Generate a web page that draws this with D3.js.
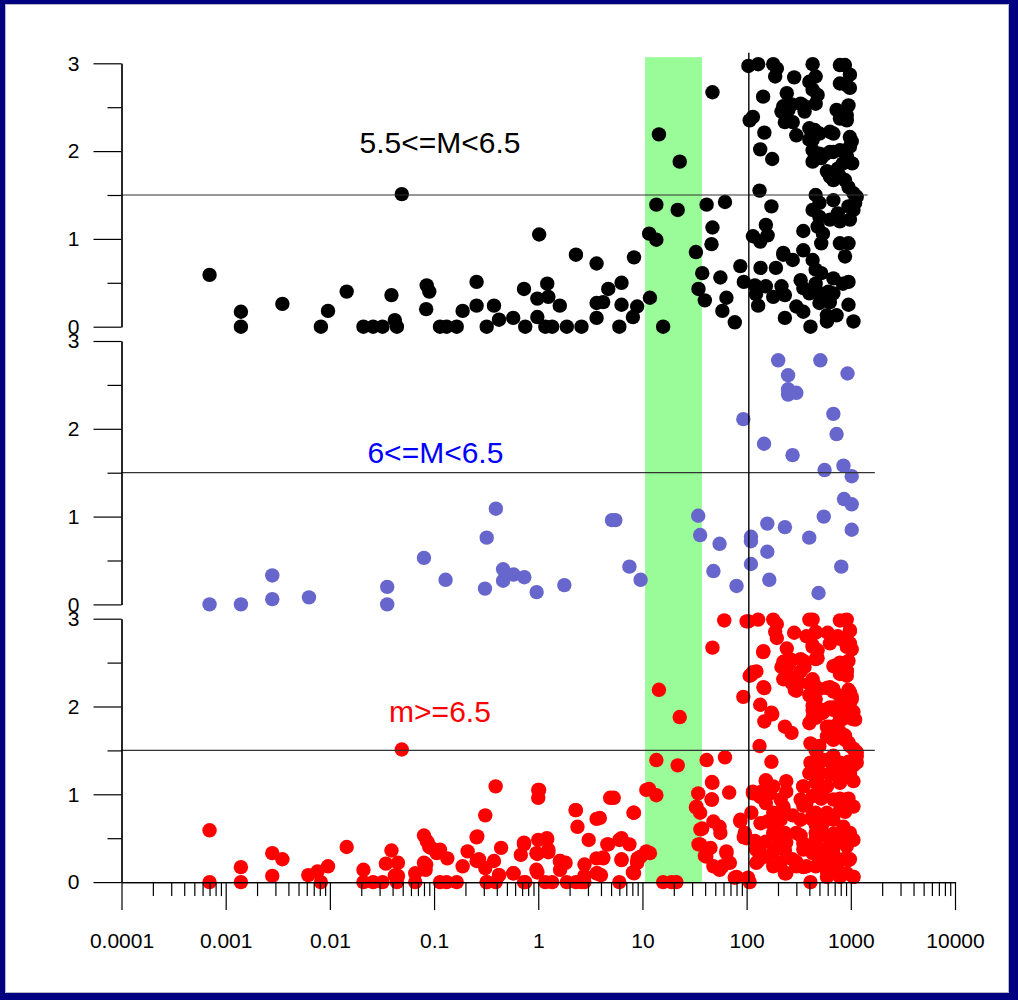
<!DOCTYPE html>
<html>
<head>
<meta charset="utf-8">
<script src="https://cdn.jsdelivr.net/npm/d3@7"></script>
<style>
  body { margin: 0; background: #000080; }
  svg { display: block; font-family: "Liberation Sans", Arial, sans-serif; }
</style>
</head>
<body>
<div id="chart"></div>
<script>
// ---- data ----
// [distance, value] pairs
const blackPts = [
  [0.0007,0.59],[0.0014,0.17],[0.0014,0],[0.0035,0.26],[0.0082,0],[0.0096,0.18],[0.0145,0.40],[0.021,0],[0.026,0],[0.032,0],
  [0.039,0.36],[0.042,0.075],[0.044,0],[0.049,1.51],[0.085,0.47],[0.09,0.40],[0.084,0.20],[0.114,0],[0.132,0],[0.165,0],
  [0.188,0.18],[0.256,0.51],[0.256,0.24],[0.32,0],[0.376,0.24],[0.42,0.08],[0.575,0.10],[0.73,0.43],[0.75,0],[0.98,0.11],
  [0.98,0.32],[1.02,1.05],[1.22,0.49],[1.25,0.34],[1.17,0],[1.36,0],[1.61,0.24],[1.88,0],[2.6,0],[2.3,0.82],[3.63,0.72],
  [3.63,0.27],[3.63,0.10],[8.3,0.79],[6.3,0.50],[4.7,0.43],[4.2,0.28],[6.3,0.25],[8.9,0.23],[8.1,0.11],[6.0,0],[11.8,0.33],
  [15.8,0],[11.6,1.06],[13.6,0.99],[32.6,0.85],[13.6,1.39],[21.8,1.33],[14.4,2.19],[22.8,1.88],[47,2.67],[41.3,1.39],[62,1.42],
  [47,1.13],[46,0.94],[37.5,0.61],[34.5,0.43],[39.7,0.30],[56,0.56],[64,0.33],[58.5,0.18],[77,0.05],[87,0.69],[94,0.51],
  [104,2.97],[129,2.99],[115,2.39],[107,2.35],[144,2.62],[148,2.21],[135,2.02],[176,1.91],[133,1.55],[173,1.37],[153,1.16],
  [159,1.04],[135,0.97],[115,1.03],[136,0.67],[191,0.67],[120,0.47],[153,0.46],[123,0.37],[180,0.34],[129,0.24],[225,0.82],
  [216,0.46],[233,0.36],[233,0.10],[180,2.99],[195,2.94],[188,2.85],[286,2.84],[243,2.66],[225,2.51],[270,2.53],[216,2.45],
  [252,2.47],[233,2.33],[277,2.33],[300,2.18],[350,2.52],[360,2.45],[330,2.54],[400,2.79],[460,2.85],[430,2.70],[480,2.64],
  [460,2.54],[430,2.99],[786,2.98],[878,2.98],[980,2.87],[786,2.77],[915,2.75],[980,2.72],[400,2.26],[450,2.24],[430,2.13],
  [400,2.13],[500,2.20],[630,2.22],[680,2.20],[730,2.47],[786,2.37],[950,2.52],[915,2.41],[915,2.35],[980,2.16],[1020,2.11],
  [980,2.05],[430,2.01],[500,1.97],[520,1.92],[430,1.88],[560,1.96],[630,1.99],[680,1.99],[786,2.01],[915,1.94],[1030,1.86],
  [840,1.86],[750,1.80],[590,1.77],[630,1.71],[680,1.67],[786,1.71],[880,1.67],[950,1.59],[1060,1.52],[1140,1.48],[1100,1.41],
  [950,1.37],[1060,1.33],[460,1.50],[500,1.41],[430,1.33],[500,1.25],[680,1.44],[786,1.20],[980,1.22],[630,1.22],[750,1.29],
  [480,1.14],[540,1.06],[520,0.95],[786,0.95],[950,0.95],[880,0.80],[350,1.09],[350,0.87],[277,0.76],[225,0.84],[430,0.76],
  [460,0.65],[520,0.61],[460,0.49],[680,0.55],[840,0.49],[950,0.51],[330,0.53],[350,0.44],[400,0.38],[500,0.38],[610,0.40],
  [680,0.38],[300,0.23],[350,0.17],[500,0.27],[630,0.28],[950,0.25],[590,0.13],[730,0.13],[1060,0.06],[410,0],[590,0.06]
];

const bluePts = [
  [0.0007,0],[0.0014,0],[0.0028,0.06],[0.0028,0.33],[0.0063,0.08],[0.0355,0],[0.0355,0.20],[0.080,0.53],[0.129,0.28],
  [0.308,0.18],[0.32,0.76],[0.392,1.09],[0.46,0.40],[0.46,0.27],[0.58,0.34],[0.735,0.31],[0.965,0.14],[1.78,0.22],[5.1,0.96],
  [5.5,0.96],[7.5,0.43],[9.6,0.28],[34.3,1.01],[35.8,0.79],[55,0.69],[48,0.38],[80,0.21],[93,2.11],[110,0.77],[110,0.72],
  [110,0.46],[147,1.83],[158,0.92],[158,0.60],[165,0.28],[201,2.78],[250,2.61],[250,2.45],[250,2.39],[300,2.41],[276,1.70],
  [233,0.88],[399,0.76],[510,2.78],[550,1.00],[490,0.13],[560,1.53],[680,2.17],[730,1.94],[850,1.58],[1020,1.46],[930,2.63],
  [860,1.20],[1020,1.14],[1020,0.85],[810,0.43]
];

// the red panel holds every black point plus these
const redExtraPts = [
  [0.0007,0],[0.0028,0.33],[0.0028,0.07],[0.0062,0.08],[0.0076,0.12],[0.021,0.14],[0.0345,0.21],[0.045,0.22],[0.045,0.07],
  [0.066,0],[0.066,0.10],[0.08,0.53],[0.087,0.45],[0.094,0.39],[0.106,0.33],[0.08,0.22],[0.083,0.14],[0.134,0.27],[0.114,0.37],
  [0.21,0.35],[0.26,0.52],[0.31,0.76],[0.39,1.09],[0.27,0.26],[0.31,0.16],[0.32,0],[0.42,0.08],[0.39,0],[0.44,0.39],[0.58,0.10],
  [0.73,0],[0.68,0.31],[0.73,0.45],[1.0,1.05],[1.0,0.96],[1.0,0.48],[1.21,0.50],[1.25,0.37],[0.96,0.33],[0.96,0.14],[2.3,0],
  [2.77,0],[1.62,0.24],[1.83,0.22],[1.62,0.14],[2.28,0.82],[2.38,0.63],[3.05,0.48],[2.78,0.20],[2.77,0.07],[3.7,0.10],[3.9,0.73],
  [4.9,0.96],[5.3,0.96],[4.6,0.43],[6.0,0.48],[7.5,0.43],[4.2,0.27],[6.3,0.26],[8.3,0.10],[8.9,0.22],[9.6,0.29],[8.2,0.79],
  [10.9,1.05],[10.9,0.35],[9.0,0.27],[4.0,0.08],[19,0],[21.2,0],[34.3,1.01],[33,0.86],[35.8,0.79],[46.5,1.14],[46.5,0.94],
  [68,1.02],[61,2.98],[100,2.97],[36,0.60],[48,0.69],[55,0.63],[35.8,0.43],[45,0.39],[64,0.35],[48,0.18],[55,0.14],[69,0.22],
  [41,0.29],[93,2.11],[111,2.36],[124,2.40],[87,0.71],[115,1.01],[111,0.79],[100,0.50],[96,0.56],[103,0.05],[107,0],[80,0.06],
  [124,0.45],[135,0.33],[124,0.22],[153,0.29],[180,0.18],[195,0.41],[212,0.22],[145,2.22],[148,1.83],[173,1.93],[145,2.63],
  [153,1.15],[139,1.03],[167,1.01],[150,0.94],[153,0.90],[180,1.09],[212,0.94],[240,1.03],[240,1.15],[180,0.79],[225,0.86],
  [158,0.69],[212,0.71],[180,0.56],[233,0.56],[240,0.45],[300,0.56],[330,0.71],[350,1.09],[375,0.90],[330,0.94],[195,2.78],
  [243,2.35],[225,2.31],[290,2.19],[270,2.27],[350,2.50],[330,2.40],[320,2.27],[233,1.77],[270,1.70],[400,2.99],[460,2.84],
  [430,2.68],[480,2.55],[375,2.80],[600,2.84],[630,2.72],[915,2.99],[980,2.86],[750,2.80],[915,2.68],[786,2.50],[915,2.40],
  [680,2.46],[1020,2.65],[430,2.31],[410,2.12],[460,2.08],[590,2.21],[680,2.17],[786,2.12],[950,2.19],[1020,2.08],[1060,1.94],
  [915,1.96],[430,1.96],[460,1.87],[400,1.81],[540,1.93],[680,1.96],[786,1.85],[630,1.77],[1100,1.85],[590,1.66],[680,1.62],
  [786,1.70],[880,1.62],[980,1.55],[1100,1.49],[1140,1.43],[410,1.58],[500,1.55],[410,1.36],[500,1.37],[590,1.39],[680,1.39],
  [786,1.36],[950,1.36],[1140,1.36],[400,1.24],[500,1.24],[630,1.24],[786,1.24],[980,1.24],[1060,1.15],[460,1.13],[590,1.09],
  [786,1.13],[430,0.98],[540,0.98],[680,0.94],[915,0.94],[1060,0.86],[786,0.82],[590,0.79],[460,0.79],[430,0.71],[540,0.67],
  [680,0.71],[850,0.63],[980,0.56],[460,0.56],[590,0.52],[730,0.48],[915,0.41],[1060,0.48],[350,0.37],[430,0.33],[540,0.29],
  [680,0.33],[850,0.26],[980,0.26],[375,0.18],[460,0.18],[590,0.14],[730,0.18],[915,0.10],[300,0.18],[240,0.10],[275,0.26],
  [786,0.06],[1060,0.06]
];
const redPts = blackPts.concat(redExtraPts);

const xMajorTicks = [0.0001, 0.001, 0.01, 0.1, 1, 10, 100, 1000, 10000];
const xTickLabels = ["0.0001", "0.001", "0.01", "0.1", "1", "10", "100", "1000", "10000"];
const yMajorTicks = [0, 1, 2, 3];
const yMinorTicks = [0.5, 1.5, 2.5];

const panelNames = ["5.5<=M<6.5", "6<=M<6.5", "m>=6.5"];
const panelLabelAt = [[0.114, 1.98], [0.103, 1.61], [0.114, 1.82]];
const bandRange = [10.6, 37.2];   // shaded distance window
const refX = 105;                 // vertical reference
const refY = 1.5;                 // horizontal reference in every panel
const refYEnd = [1450, 1700, 1700];

// ---- layout ----
const dimensions = {
  width: 1018,
  height: 1000,
  plotLeft: 121.5,
  plotRight: 955,
  firstTop: 63.3,
  panelHeight: 263.4,
  panelStep: 277.7
};

const panels = [
  { pts: blackPts, color: "#000000", labelColor: "#000000" },
  { pts: bluePts,  color: "#6666cc", labelColor: "#0000ff" },
  { pts: redPts,   color: "#ff0000", labelColor: "#ff0000" }
];

const svg = d3.select("#chart")
  .append("svg")
  .attr("width", dimensions.width)
  .attr("height", dimensions.height);

// navy frame with white page
svg.append("rect")
  .attr("width", dimensions.width).attr("height", dimensions.height)
  .attr("fill", "#000080");
svg.append("rect")
  .attr("x", 5.5).attr("y", 4.5)
  .attr("width", 1003).attr("height", 988)
  .attr("fill", "#ffffff")
  .attr("stroke", "#b8b8c8");

const xScale = d3.scaleLog()
  .domain([1e-4, 1e4])
  .range([dimensions.plotLeft, dimensions.plotRight]);

const yScales = panels.map((p, i) => {
  const top = dimensions.firstTop + i * dimensions.panelStep;
  return d3.scaleLinear().domain([0, 3]).range([top + dimensions.panelHeight, top]);
});

// green band behind everything
svg.append("rect")
  .attr("x", xScale(bandRange[0]))
  .attr("width", xScale(bandRange[1]) - xScale(bandRange[0]))
  .attr("y", yScales[0](3.07))
  .attr("height", yScales[2](0) - yScales[0](3.07))
  .attr("fill", "#99fc99");

// points
panels.forEach((p, i) => {
  svg.append("g")
    .selectAll("circle")
    .data(p.pts)
    .join("circle")
    .attr("cx", d => xScale(d[0]))
    .attr("cy", d => yScales[i](d[1]))
    .attr("r", 7.2)
    .attr("fill", p.color);
});

// reference lines
panels.forEach((p, i) => {
  svg.append("line")
    .attr("x1", xScale(1e-4)).attr("x2", xScale(refYEnd[i]))
    .attr("y1", yScales[i](refY)).attr("y2", yScales[i](refY))
    .attr("stroke", "#333").attr("stroke-width", 1.2);
});
svg.append("line")
  .attr("x1", xScale(refX)).attr("x2", xScale(refX))
  .attr("y1", yScales[0](3.12)).attr("y2", yScales[2](0))
  .attr("stroke", "#000").attr("stroke-width", 1.4);

// y axes, one per panel
panels.forEach((p, i) => {
  const g = svg.append("g")
    .attr("transform", `translate(${dimensions.plotLeft},0)`);

  g.append("g")
    .call(d3.axisLeft(yScales[i]).tickValues(yMajorTicks).tickSize(28).tickSizeOuter(0)
      .tickPadding(14).tickFormat(d3.format("d")));
  g.append("g")
    .call(d3.axisLeft(yScales[i]).tickValues(yMinorTicks).tickSize(14).tickSizeOuter(0)
      .tickFormat(""));

  g.selectAll("text")
    .attr("font-size", 21)
    .attr("font-family", "Liberation Sans, Arial, sans-serif")
    .attr("fill", "#000");
  g.selectAll("path, line").attr("stroke", "#000").attr("stroke-width", 1.2);

  // panel label
  svg.append("text")
    .attr("x", xScale(panelLabelAt[i][0]))
    .attr("y", yScales[i](panelLabelAt[i][1]))
    .attr("text-anchor", "middle")
    .attr("font-size", 30)
    .attr("fill", p.labelColor)
    .text(panelNames[i]);
});

// shared log x axis under the last panel
const xMinorTicks = [];
xMajorTicks.slice(0, -1).forEach(d => {
  for (let k = 2; k <= 9; k++) xMinorTicks.push(d * k);
});

const xAxisG = svg.append("g")
  .attr("transform", `translate(0,${yScales[2](0)})`);
xAxisG.append("g")
  .call(d3.axisBottom(xScale).tickValues(xMajorTicks).tickSize(28).tickSizeOuter(0)
    .tickPadding(23).tickFormat((d, i) => xTickLabels[i]));
xAxisG.append("g")
  .call(d3.axisBottom(xScale).tickValues(xMinorTicks).tickSize(14).tickSizeOuter(0)
    .tickFormat(""));
xAxisG.selectAll("text")
  .attr("font-size", 21)
  .attr("font-family", "Liberation Sans, Arial, sans-serif")
  .attr("fill", "#000");
xAxisG.selectAll("path, line").attr("stroke", "#000").attr("stroke-width", 1.2);
</script>
</body>
</html>
